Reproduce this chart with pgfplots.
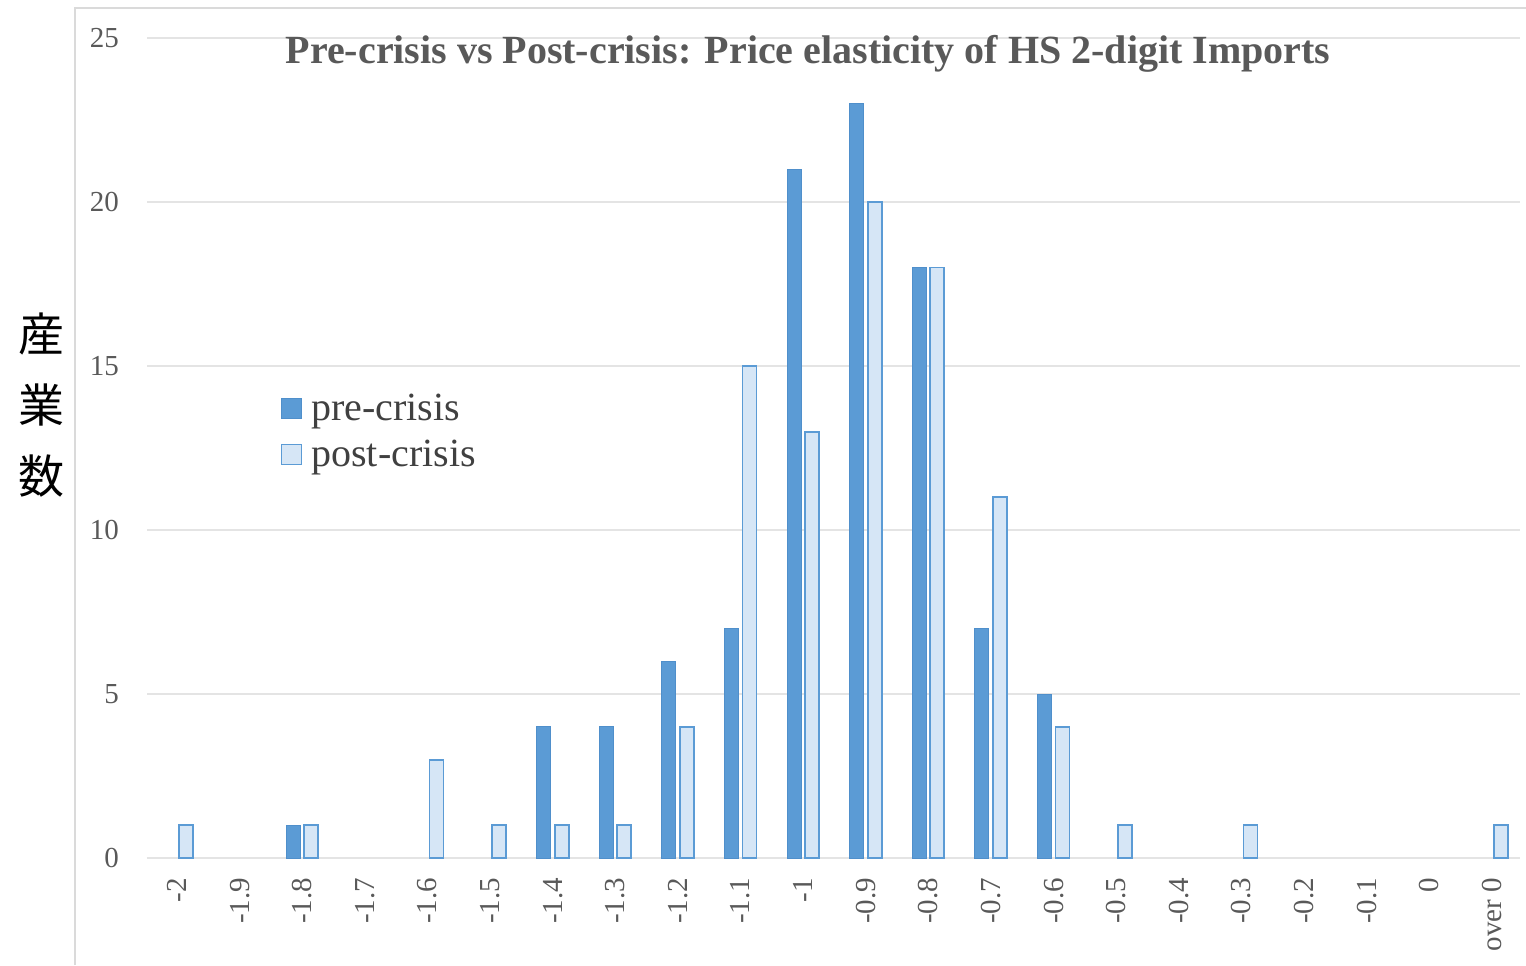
\documentclass[border=0pt]{standalone}
\usepackage{pgfplots}
\pgfplotsset{compat=1.18}
\usepackage{fontspec}
\setmainfont{Liberation Serif}
\newfontfamily\cjk{Noto Sans CJK JP}

\definecolor{preblue}{HTML}{5B9BD5}
\definecolor{preedge}{HTML}{4F8FCB}
\definecolor{postfill}{HTML}{D6E6F6}
\definecolor{postedge}{HTML}{5B9BD5}
\definecolor{gridgray}{HTML}{E4E4E4}
\definecolor{framegray}{HTML}{DADADA}
\definecolor{labelgray}{HTML}{595959}

\begin{document}
\begin{tikzpicture}
\useasboundingbox (-73.5pt,-53.5pt) rectangle (689.5pt,429pt);
% outer frame
\draw[framegray, line width=1pt] (-36pt,-53.5pt) -- (-36pt,425pt) -- (689.5pt,425pt);
\begin{axis}[
  at={(0pt,0pt)}, anchor=south west,
  scale only axis,
  width=686.5pt, height=410pt,
  xmin=-0.48, xmax=21.45,
  ymin=0, ymax=25,
  ytick={0,5,10,15,20,25},
  xtick={0,...,21},
  xticklabels={-2,-1.9,-1.8,-1.7,-1.6,-1.5,-1.4,-1.3,-1.2,-1.1,-1,-0.9,-0.8,-0.7,-0.6,-0.5,-0.4,-0.3,-0.2,-0.1,0,over 0},
  axis line style={draw=none},
  axis x line*=bottom,
  axis y line*=left,
  major tick length=0pt,
  ymajorgrids,
  grid style={gridgray, line width=0.8pt},
  extra y ticks={0},
  extra y tick labels={},
  extra y tick style={grid style={gridgray, line width=1pt}},
  /pgf/number format/assume math mode=true,
  tick label style={font=\fontsize{14.5}{16}\selectfont, text=labelgray},
  yticklabel style={anchor=east, xshift=-10.5pt},
  xticklabel style={rotate=90, anchor=east, xshift=-6.5pt, yshift=0pt},
  ybar, bar width=7pt,
  legend style={draw=none, fill=none, at={(0.097,0.571)}, anchor=north west,
    font=\fontsize{20}{22}\selectfont, text=black!75,
    row sep=4pt, inner sep=0pt},
  legend cell align=left,
  legend image code/.code={\draw[#1] (0pt,-5pt) rectangle (10pt,5pt); \path (12.5pt,0pt);},
]
% pre-crisis counts (empty bins omitted)
\addplot[bar shift=-4.5pt, fill=preblue, draw=preedge, line width=0.5pt]
  coordinates {(2,1) (6,4) (7,4) (8,6) (9,7) (10,21) (11,23) (12,18) (13,7) (14,5)};
% post-crisis counts (empty bins omitted)
\addplot[bar shift=4.5pt, fill=postfill, draw=postedge, line width=0.9pt]
  coordinates {(0,1) (2,1) (4,3) (5,1) (6,1) (7,1) (8,4) (9,15) (10,13) (11,20) (12,18) (13,11) (14,4) (15,1) (17,1) (21,1)};
\legend{pre-crisis, post-crisis}
\end{axis}
\node[font=\bfseries\fontsize{20}{23}\selectfont, text=labelgray] at (330.5pt,402pt)
  {Pre-crisis vs Post-crisis: Price elasticity of HS 2-digit Imports};
\node[font=\cjk\fontsize{23}{35.5}\selectfont, align=center, text=black] at (-52.5pt,226.5pt)
  {産\\業\\数};
\end{tikzpicture}
\end{document}
